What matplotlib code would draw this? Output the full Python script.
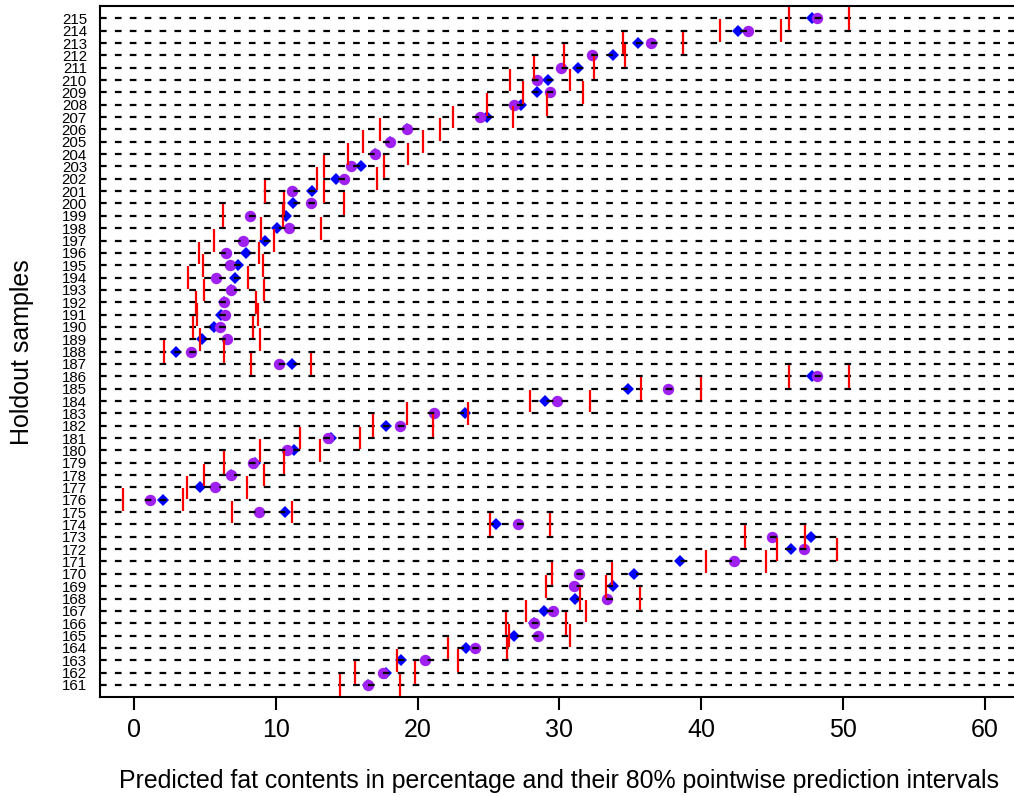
import numpy as np
import matplotlib
matplotlib.use("Agg")
import matplotlib.pyplot as plt

plt.rcParams['font.family'] = ['Liberation Sans', 'DejaVu Sans']

# Holdout sample ids (bottom to top)
samples = np.arange(161, 216)

# Observed fat content (blue diamonds), 161 .. 215
observed = [16.50, 17.79, 18.85, 23.41, 26.77, 28.18, 28.89, 31.12, 33.75, 35.23,
            38.53, 46.33, 47.74, 25.53, 10.62, 2.05, 4.68, 6.84, 8.55, 11.26,
            13.90, 17.77, 23.32, 29.01, 34.82, 47.80, 11.14, 2.96, 4.80, 5.61,
            6.13, 6.37, 6.86, 7.14, 7.33, 7.92, 9.21, 10.08, 10.74, 11.21,
            12.55, 14.27, 16.03, 16.97, 18.03, 19.25, 24.89, 27.26, 28.43, 29.22,
            31.34, 33.79, 35.52, 42.56, 47.84]

# Predicted fat content (purple circles)
predicted = [16.50, 17.53, 20.50, 24.07, 28.46, 28.18, 29.55, 33.36, 31.00, 31.40,
             42.28, 47.27, 44.99, 27.08, 8.84, 1.15, 5.69, 6.84, 8.37, 10.79,
             13.68, 18.78, 21.13, 29.86, 37.68, 48.14, 10.20, 4.04, 6.56, 6.09,
             6.44, 6.37, 6.86, 5.78, 6.79, 6.49, 7.66, 10.93, 8.20, 12.48,
             11.14, 14.83, 15.30, 16.97, 18.03, 19.25, 24.42, 26.83, 29.34, 28.39,
             30.11, 32.28, 36.43, 43.28, 48.15]

# 80% pointwise prediction interval bounds (red bars)
lower = [14.55, 15.56, 18.55, 22.12, 26.42, 26.23, 27.64, 31.47, 29.08, 29.48,
         40.36, 45.35, 43.11, 25.13, 6.91, -0.80, 3.74, 4.91, 6.37, 8.91,
         11.68, 16.85, 19.25, 27.93, 35.77, 46.20, 8.25, 2.09, 4.63, 4.16,
         4.46, 4.39, 4.96, 3.81, 4.87, 4.56, 5.66, 8.96, 6.28, 10.55,
         9.21, 12.90, 13.37, 15.09, 16.12, 17.37, 22.47, 24.89, 27.43, 26.49,
         28.19, 30.35, 34.51, 41.35, 46.18]
upper = [18.78, 19.79, 22.82, 26.30, 30.72, 30.49, 31.88, 35.70, 33.31, 33.71,
         44.59, 49.58, 47.29, 29.36, 11.14, 3.43, 7.97, 9.14, 10.60, 13.14,
         15.91, 21.09, 23.54, 32.13, 40.00, 50.44, 12.48, 6.32, 8.86, 8.39,
         8.72, 8.62, 9.19, 8.04, 9.10, 8.79, 9.89, 13.19, 10.51, 14.78,
         13.42, 17.14, 17.65, 19.30, 20.35, 21.60, 26.70, 29.10, 31.63, 30.74,
         32.47, 34.60, 38.72, 45.60, 50.44]

x_ticks = [0, 10, 20, 30, 40, 50, 60]

fig = plt.figure(figsize=(10.14, 7.96), dpi=100)
# right edge of the box falls outside the picture, as in the original
ax = fig.add_axes([0.0986, 0.124, 0.9062, 0.8685])
ax.set_xlim(-2.4, 62.4)
ax.set_ylim(160, 216)

ax.plot(observed, samples, 'D', color='blue', ms=5.8, mew=0, zorder=2)
ax.plot(predicted, samples, 'o', color='#A020F0', ms=8.2, mew=0, zorder=3)

# dashed guide line for every sample, drawn over the points
for s in samples:
    ax.axhline(s, color='black', lw=1.6, dashes=(3.0, 3.7), zorder=4)

# interval ends drawn as short vertical bars
ax.vlines(lower, samples - 0.92, samples + 0.92, color='red', lw=1.6, zorder=5)
ax.vlines(upper, samples - 0.92, samples + 0.92, color='red', lw=1.6, zorder=5)

ax.set_xticks(x_ticks)
ax.set_yticks(samples)
ax.set_yticklabels([str(s) for s in samples])
ax.tick_params(axis='x', length=9.1, width=1.5, pad=6.0, labelsize=18)
ax.tick_params(axis='y', length=0, pad=9.4, labelsize=10.8)
for side in ['left', 'bottom', 'top', 'right']:
    ax.spines[side].set_linewidth(1.5)
    ax.spines[side].set_zorder(6)

ax.set_xlabel('Predicted fat contents in percentage and their 80% pointwise prediction intervals',
              fontsize=17.9)
ax.set_ylabel('Holdout samples', fontsize=18)
ax.xaxis.set_label_coords(0.5, -0.104)
ax.yaxis.set_label_coords(-0.072, 0.5)

fig.savefig('out.png', dpi=100)
